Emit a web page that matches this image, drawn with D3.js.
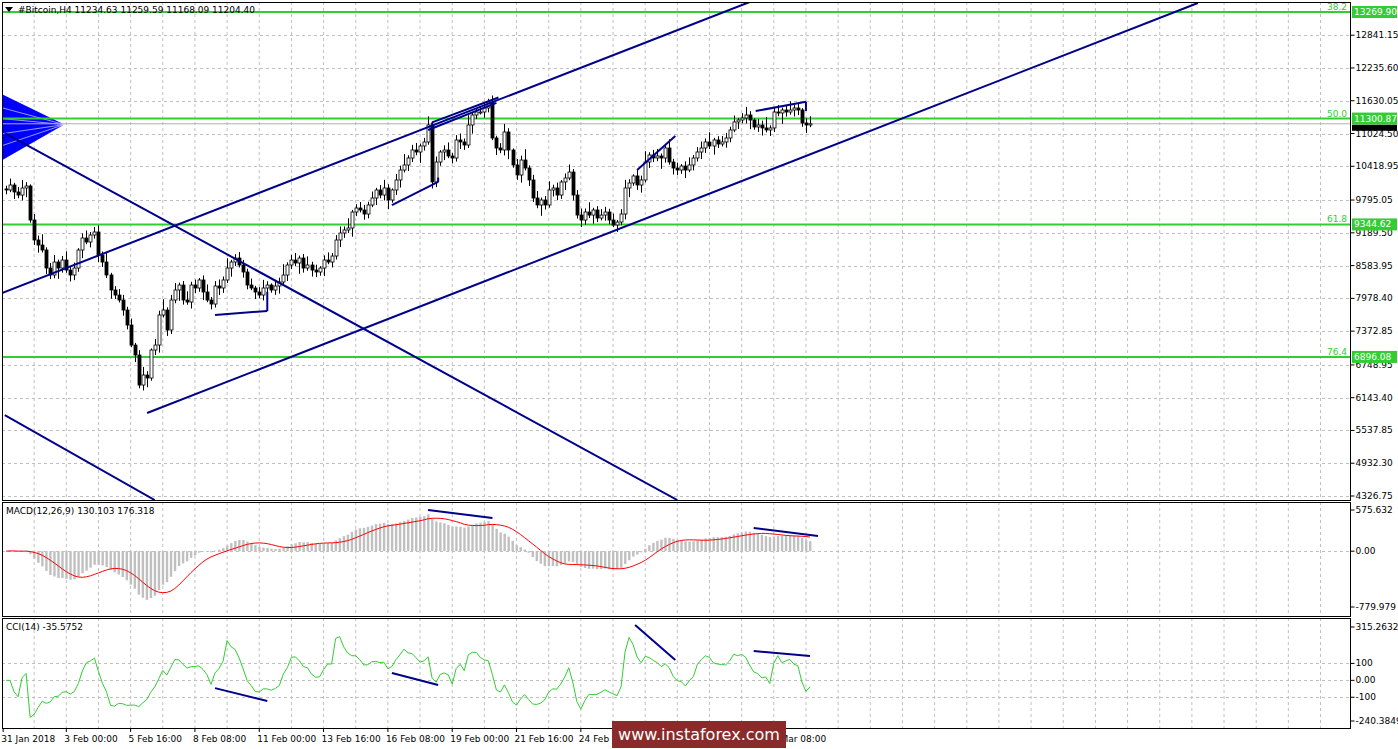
<!DOCTYPE html>
<html><head><meta charset="utf-8">
<script src="https://cdn.jsdelivr.net/npm/d3@7"></script>
<style>body{margin:0;background:#fff}svg{display:block}text{font-family:"DejaVu Sans",sans-serif;font-size:9px}</style>
</head><body><svg id="c" width="1398" height="749"></svg>
<script>
const closes=[9981,10073,9944,9888,10018,10055,9426,9057,8964,8872,8539,8410,8650,8539,8687,8502,8410,8539,8872,9094,9020,9149,9205,8780,8650,8410,8133,8040,7948,7763,7486,7116,6931,6377,6562,6507,7024,7116,7671,7763,7394,7948,8133,8225,7948,7911,8225,8170,8318,8096,7948,7874,8207,8170,8318,8539,8650,8724,8595,8466,8225,8170,8096,8040,8170,8225,8133,8207,8281,8410,8595,8687,8632,8724,8539,8595,8502,8466,8539,8687,8650,8761,9057,9186,9242,9279,9574,9648,9611,9537,9704,9833,9981,9888,10018,9796,9981,10166,10350,10443,10572,10720,10683,10794,10868,11182,10129,10498,10683,10720,10609,10572,10905,10868,10812,11182,11367,11422,11422,11496,11607,10942,10757,10720,11053,10720,10443,10258,10535,10387,10166,9833,9704,9796,9704,9981,10018,9888,10129,10203,10313,9888,9518,9426,9574,9518,9611,9463,9518,9574,9426,9334,9389,9537,10018,10110,10240,10073,10166,10498,10628,10572,10609,10572,10757,10498,10387,10350,10424,10350,10443,10572,10683,10757,10868,10794,10905,10831,10868,10942,11090,11238,11274,11311,11367,11274,11145,11182,11127,11090,11127,11422,11404,11459,11422,11459,11496,11459,11219,11182,11204.40];
const firstOpen=10000;
const wickUp=[60,120,40,90,150,70,30,110,80,200,50,95,130,45,75,160,60,100,35,85,140,55,90,120,65,180,40,70,110,95];
const wickDn=[80,40,130,60,100,170,50,90,140,45,110,75,60,200,85,50,120,95,70,150,40,100,65,130,90,55,160,75,45,105];
const priceTicks=[12841.15,12235.60,11630.05,11024.50,10418.95,9795.05,9189.50,8583.95,7978.40,7372.85,6748.95,6143.40,5537.85,4932.30,4326.75];
const fibLevels=[13269.90,11300.87,9344.62,6896.08];
const fibNames=["38.2","50.0","61.8","76.4"];
const lastPrice=11204.40;
const dateLabels=["31 Jan 2018","3 Feb 00:00","5 Feb 16:00","8 Feb 08:00","11 Feb 00:00","13 Feb 16:00","16 Feb 08:00","19 Feb 00:00","21 Feb 16:00","24 Feb 08:00","27 Feb 00:00","1 Mar 16:00","4 Mar 08:00"];
const dateIdx=[-0.7,15,31,47,63,79,95,111,127,143,159,175,191];
// trend lines [i1,v1,i2,v2]
const priceLines=[[-1,8077,185,13455],[35.1,5860,296.5,13436],[-0.3,11034,167,4252],[-0.3,5823,37,4252],
 [52,7671,65,7745],[65,7745,65,8100],[96,9700,107.5,10130],[107.5,10130,107.5,10210],
 [106,11230,122.5,11690],[105,11090,122,11590],[106,11230,106,11090],[157,10350,166.5,10980],
 [186.5,11440,199,11610],[199,11610,199,11440]];
const macdLines=[[105,576,121,464],[186,324,202,212]];
const cciLines=[[52,-46,65,-122],[96,43,107.5,-28],[156.5,327,166.5,120],[186,173,200,144]];
const macdTicks=[575.632,0,-779.979];
const cciTicks=[315.2632,100,0,-100,-240.3849];

const svg=d3.select("#c");
const L=2,R=1350;
const x=d3.scaleLinear().domain([0,201]).range([6,814]);
const y=d3.scaleLinear().domain([4326.75,13269.9]).range([496,12]);
const ym=d3.scaleLinear().domain([-779.979,575.632]).range([607,510]);
const yc=d3.scaleLinear().domain([-240.3849,315.2632]).range([721,627]);
const panels=[[2,500],[502,616],[618,728]];
const blue="#00008b",green="#32cd32",grid="#c0c0c0";

const bars=closes.map((c,i)=>{const o=i?closes[i-1]:firstOpen;return{o,c,h:Math.max(o,c)+wickUp[i%30],l:Math.min(o,c)-wickDn[i%30]}});
function ema(a,n){const k=2/(n+1);let e=a[0];return a.map(v=>e=v*k+e*(1-k));}
const e12=ema(closes,12),e26=ema(closes,26);
const macd=closes.map((c,i)=>e12[i]-e26[i]);
const sig=macd.map((v,i)=>d3.mean(macd.slice(Math.max(0,i-8),i+1)));
const tp=bars.map(b=>(b.h+b.l+b.c)/3);
const cci=tp.map((v,i)=>{const w=tp.slice(Math.max(0,i-13),i+1);if(w.length<3)return 0;const m=d3.mean(w);const md=d3.mean(w,d=>Math.abs(d-m));return (v-m)/(0.015*md);});

panels.forEach((p,k)=>svg.append("clipPath").attr("id","cp"+k).append("rect").attr("x",L).attr("y",p[0]).attr("width",R-L).attr("height",p[1]-p[0]));
const vg=[];for(let i=7;x(i)<R;i+=8)vg.push(i);
panels.forEach(p=>{svg.append("g").selectAll("line").data(vg).join("line").attr("x1",d=>x(d)).attr("x2",d=>x(d)).attr("y1",p[0]).attr("y2",p[1]).attr("stroke",grid).attr("stroke-dasharray","3,3");});
function hgrid(vals,sc,p){svg.append("g").selectAll("line").data(vals.filter(v=>sc(v)>p[0]+2&&sc(v)<p[1]-2)).join("line").attr("x1",L).attr("x2",R).attr("y1",d=>Math.round(sc(d))+0.5).attr("y2",d=>Math.round(sc(d))+0.5).attr("stroke",grid).attr("stroke-dasharray","3,3");}
hgrid(priceTicks,y,panels[0]);hgrid([0],ym,panels[1]);hgrid([100,0,-100],yc,panels[2]);

const g0=svg.append("g").attr("clip-path","url(#cp0)");
g0.append("path").attr("d",d3.line()([[L,y(11750)],[x(14.5),y(11190)],[L,y(10530)]])).attr("fill","#0000ff");
[11500,11300,11020,10800].forEach(v=>g0.append("line").attr("x1",L).attr("x2",x(14.5)).attr("y1",y(v)).attr("y2",y(11190)).attr("stroke","#fff").attr("stroke-width",0.6));
g0.selectAll(".fib").data(fibLevels).join("line").attr("x1",L).attr("x2",R).attr("y1",d=>y(d)).attr("y2",d=>y(d)).attr("stroke",green).attr("stroke-width",2);
g0.append("line").attr("x1",L).attr("x2",R).attr("y1",y(lastPrice)).attr("y2",y(lastPrice)).attr("stroke","#b0b0b0");
g0.selectAll(".fn").data(fibLevels).join("text").attr("x",R-3).attr("y",d=>y(d)-2).attr("text-anchor","end").attr("fill",green).text((d,i)=>fibNames[i]);
const cg=g0.append("g");
bars.forEach((b,i)=>{const cx=Math.round(x(i))+0.5;
 cg.append("line").attr("x1",cx).attr("x2",cx).attr("y1",y(b.h)).attr("y2",y(b.l)).attr("stroke","#000");
 const t=y(Math.max(b.o,b.c)),bt=y(Math.min(b.o,b.c));
 cg.append("rect").attr("x",cx-1.5).attr("y",t).attr("width",3).attr("height",Math.max(1,bt-t)).attr("fill",b.c>=b.o?"#fff":"#000").attr("stroke","#000").attr("stroke-width",0.8);});
function tl(g,data,sc){g.selectAll(null).data(data).join("line").attr("x1",d=>x(d[0])).attr("y1",d=>sc(d[1])).attr("x2",d=>x(d[2])).attr("y2",d=>sc(d[3])).attr("stroke",blue).attr("stroke-width",2);}
tl(g0,priceLines,y);
const g1=svg.append("g").attr("clip-path","url(#cp1)");
g1.selectAll("rect").data(macd).join("rect").attr("x",(d,i)=>x(i)-1).attr("width",2.4).attr("y",d=>Math.min(ym(d),ym(0))).attr("height",d=>Math.abs(ym(d)-ym(0))).attr("fill","#c0c0c0");
g1.append("path").datum(sig).attr("d",d3.line().x((d,i)=>x(i)).y(d=>ym(d))).attr("fill","none").attr("stroke","#ff0000");
tl(g1,macdLines,ym);
const g2=svg.append("g").attr("clip-path","url(#cp2)");
g2.append("path").datum(cci).attr("d",d3.line().x((d,i)=>x(i)).y(d=>yc(Math.max(-240,Math.min(315,d))))).attr("fill","none").attr("stroke","#32cd32");
tl(g2,cciLines,yc);
panels.forEach(p=>svg.append("rect").attr("x",L+0.5).attr("y",p[0]+0.5).attr("width",R-L).attr("height",p[1]-p[0]).attr("fill","none").attr("stroke","#000"));
function axis(vals,sc,fmt){const a=svg.append("g").attr("transform",`translate(${R+0.5},0)`);
 a.selectAll("line").data(vals).join("line").attr("x1",0).attr("x2",4).attr("y1",d=>sc(d)).attr("y2",d=>sc(d)).attr("stroke","#000");
 a.selectAll("text").data(vals).join("text").attr("x",5).attr("y",d=>sc(d)+3).text(fmt);}
axis(priceTicks,y,d=>d.toFixed(2));
axis(macdTicks,ym,d=>d===0?"0.00":d.toFixed(3));
axis(cciTicks,yc,d=>d===0?"0.00":(Math.abs(d)==100?String(d):d.toFixed(4)));
fibLevels.forEach(v=>{svg.append("rect").attr("x",R+2).attr("y",y(v)-6).attr("width",45).attr("height",12).attr("fill",green);
 svg.append("text").attr("x",R+4).attr("y",y(v)+3).attr("fill","#fff").text(v.toFixed(2));});
svg.append("rect").attr("x",R+2).attr("y",y(lastPrice)+1).attr("width",45).attr("height",6).attr("fill","#000");
// x axis
svg.append("g").selectAll("line").data(dateIdx).join("line").attr("x1",d=>x(d)).attr("x2",d=>x(d)).attr("y1",728).attr("y2",732).attr("stroke","#000");
svg.append("g").selectAll("text").data(dateLabels).join("text").attr("x",(d,i)=>x(dateIdx[i])-2).attr("y",742).text(d=>d);
svg.append("path").attr("d","M5,7 L13,7 L9,12 Z").attr("fill","#000");
svg.append("text").attr("x",18).attr("y",13).text("#Bitcoin,H4  11234.63 11259.59 11168.09 11204.40");
svg.append("text").attr("x",6).attr("y",514).text("MACD(12,26,9) 130.103 176.318");
svg.append("text").attr("x",6).attr("y",630).text("CCI(14) -35.5752");
svg.append("rect").attr("x",612).attr("y",721).attr("width",174).attr("height",27).attr("fill","#8b2a2a");
svg.append("text").attr("x",699).attr("y",740).attr("text-anchor","middle").attr("fill","#fff").style("font-size","16px").text("www.instaforex.com");
</script></body></html>
